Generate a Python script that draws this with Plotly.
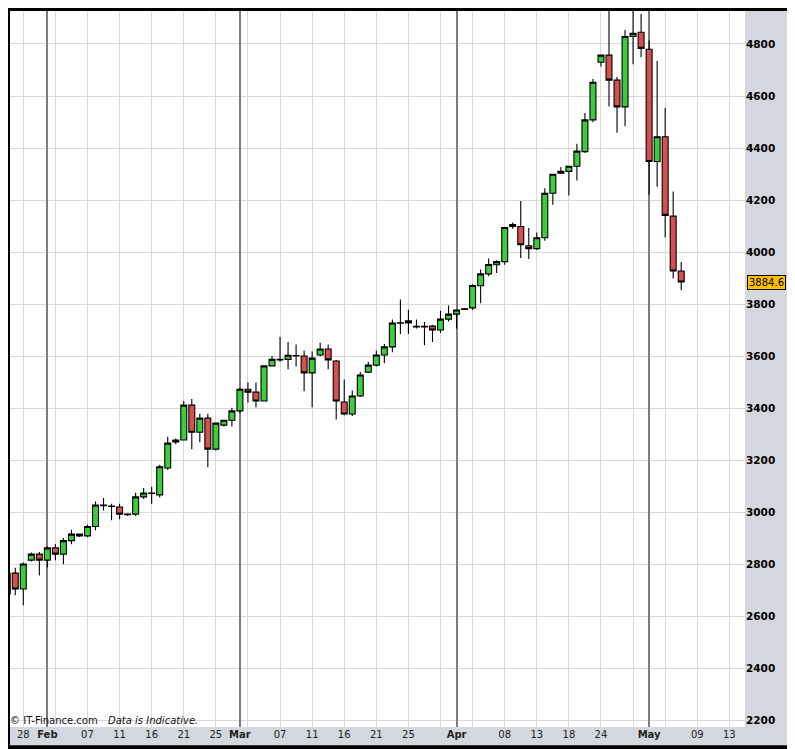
import plotly.graph_objects as go

# daily OHLC (index = trading day)
opens = [2685, 2765, 2704, 2815, 2838, 2815, 2862, 2838, 2890, 2915,
         2908, 2944, 3024, 3023, 3019, 2992, 2992, 3058, 3071, 3066,
         3169, 3269, 3277, 3411, 3307, 3361, 3242, 3334, 3353, 3389,
         3472, 3461, 3427, 3562, 3585, 3587, 3600, 3600, 3535, 3604,
         3627, 3581, 3423, 3377, 3446, 3538, 3565, 3604, 3635, 3726,
         3727, 3714, 3714, 3715, 3700, 3742, 3761, 3779, 3785, 3870,
         3916, 3951, 3963, 4106, 4098, 4024, 4013, 4055, 4226, 4303,
         4310, 4330, 4386, 4508, 4730, 4757, 4661, 4558, 4829, 4845,
         4780, 4348, 4443, 4138, 3927]
highs = [2771, 2786, 2806, 2844, 2846, 2867, 2877, 2900, 2932, 2917,
         2951, 3040, 3054, 3032, 3032, 2995, 3074, 3092, 3097, 3182,
         3289, 3283, 3427, 3435, 3378, 3378, 3342, 3355, 3401, 3478,
         3498, 3498, 3562, 3600, 3674, 3654, 3644, 3621, 3617, 3651,
         3644, 3585, 3510, 3467, 3538, 3577, 3621, 3646, 3740, 3817,
         3778, 3740, 3731, 3719, 3774, 3794, 3777, 3785, 3876, 3933,
         3975, 3968, 4094, 4113, 4196, 4092, 4075, 4245, 4299, 4327,
         4330, 4416, 4535, 4665, 4757, 4990, 4673, 4854, 4945, 4915,
         4813, 4735, 4554, 4233, 3962]
lows = [2667, 2680, 2641, 2810, 2756, 2787, 2814, 2799, 2876, 2904,
        2903, 2930, 3006, 2968, 2972, 2985, 2985, 3050, 3031, 3056,
        3162, 3261, 3277, 3241, 3268, 3172, 3237, 3329, 3329, 3380,
        3421, 3402, 3427, 3562, 3578, 3549, 3560, 3464, 3403, 3599,
        3549, 3356, 3372, 3369, 3442, 3535, 3560, 3572, 3614, 3685,
        3685, 3706, 3641, 3654, 3688, 3733, 3706, 3777, 3777, 3803,
        3907, 3919, 3951, 4089, 3977, 3973, 4008, 4043, 4182, 4303,
        4217, 4275, 4381, 4499, 4713, 4560, 4459, 4484, 4722, 4749,
        4220, 4251, 4056, 3898, 3853]
closes = [2765, 2704, 2800, 2838, 2815, 2862, 2838, 2890, 2915, 2908,
          2944, 3027, 3027, 3021, 2992, 2990, 3058, 3073, 3073, 3174,
          3265, 3277, 3411, 3307, 3361, 3242, 3342, 3353, 3389, 3472,
          3461, 3427, 3562, 3587, 3587, 3603, 3602, 3535, 3592, 3627,
          3585, 3427, 3377, 3446, 3527, 3565, 3604, 3635, 3727, 3728,
          3735, 3712, 3712, 3700, 3742, 3761, 3777, 3782, 3871, 3916,
          3952, 3963, 4094, 4098, 4028, 4013, 4055, 4226, 4299, 4310,
          4330, 4388, 4508, 4653, 4757, 4661, 4558, 4829, 4841, 4783,
          4348, 4443, 4141, 3927, 3884.6]

# x axis labels (index positions incl. projected future days)
tick_idx = [2, 5, 10, 14, 18, 22, 26, 29, 34, 38, 42, 46, 50, 56, 62, 66, 70, 74, 80, 86, 90]
tick_txt = ["28", "<b>Feb</b>", "07", "11", "16", "21", "25", "<b>Mar</b>", "07", "11",
            "16", "21", "25", "<b>Apr</b>", "08", "13", "18", "24", "<b>May</b>", "09", "13"]
month_idx = [5, 29, 56, 80]
y_ticks = list(range(2200, 4801, 200))
last_price = 3884.6

Y_LO, Y_HI = 2173.1, 4926.9
GRID = "#D9D9D9"
BAND = "#D4D7DD"
FONT = "DejaVu Sans"

x = list(range(len(opens)))

fig = go.Figure()
# month separators: thin bars so they sit above the grid but under the candles
fig.add_trace(go.Bar(
    x=month_idx, y=[Y_HI - Y_LO] * len(month_idx), base=Y_LO,
    width=0.12, marker=dict(color="#7C7C7C", line=dict(width=0)),
    hoverinfo="skip", showlegend=False,
))
fig.add_trace(go.Candlestick(
    x=x, open=opens, high=highs, low=lows, close=closes,
    increasing=dict(fillcolor="#3CCC3C", line=dict(color="black", width=1.1)),
    decreasing=dict(fillcolor="#D75050", line=dict(color="black", width=1.1)),
    whiskerwidth=0,
    showlegend=False,
))

# gray axis bands (right and bottom); the black paper gives the frame
shapes = [
    dict(type="rect", xref="paper", yref="paper", x0=1, x1=1.0649, y0=-0.0256, y1=1,
         fillcolor=BAND, line=dict(width=0), layer="below"),
    dict(type="rect", xref="paper", yref="paper", x0=0, x1=1, y0=-0.0256, y1=0,
         fillcolor=BAND, line=dict(width=0), layer="below"),
]

fig.update_layout(
    width=787, height=741,
    margin=dict(l=2, r=50, t=3, b=22),
    paper_bgcolor="black",
    plot_bgcolor="white",
    boxgap=0.26, boxgroupgap=0,
    shapes=shapes,
    font=dict(family=FONT, size=10, color="#111111"),
    xaxis=dict(
        range=[0.343, 91.95],
        rangeslider=dict(visible=False),
        tickmode="array", tickvals=tick_idx, ticktext=tick_txt,
        showgrid=True, gridcolor=GRID, gridwidth=1,
        minor=dict(tick0=2, dtick=4, showgrid=True, gridcolor=GRID, gridwidth=1),
        ticks="", zeroline=False, showline=False,
        tickfont=dict(family=FONT, size=10, color="#222222"),
        fixedrange=True,
    ),
    yaxis=dict(
        range=[Y_LO, Y_HI], side="right",
        tickmode="array", tickvals=y_ticks,
        showgrid=True, gridcolor=GRID, gridwidth=1,
        ticks="", zeroline=False, showline=False,
        tickfont=dict(family=FONT, size=10.5, color="black", weight="bold"),
        fixedrange=True,
    ),
    annotations=[
        dict(text=f"{last_price}", xref="paper", yref="y", x=1.0027, y=last_price,
             xanchor="left", yanchor="middle", showarrow=False,
             font=dict(family=FONT, size=10, color="black"),
             bgcolor="#FFBF00", bordercolor="black", borderwidth=1, borderpad=1),
        dict(text="© IT-Finance.com", xref="paper", yref="paper", x=-0.0027, y=0.0088,
             xanchor="left", yanchor="middle", showarrow=False,
             font=dict(family=FONT, size=10, color="#111111")),
        dict(text="<i>Data is Indicative.</i>", xref="paper", yref="paper", x=0.1306, y=0.0088,
             xanchor="left", yanchor="middle", showarrow=False,
             font=dict(family=FONT, size=10, color="#111111")),
    ],
)

fig.write_html("out.html")
